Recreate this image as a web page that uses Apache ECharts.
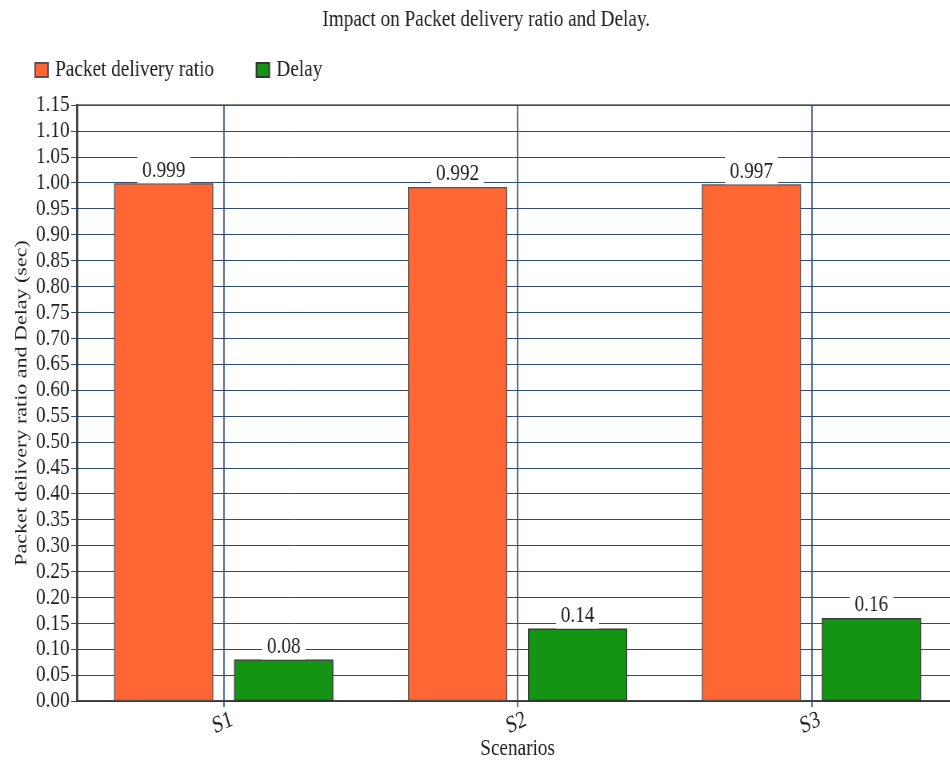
<!DOCTYPE html>
<html>
<head>
<meta charset="utf-8">
<script src="https://cdn.jsdelivr.net/npm/echarts@6/dist/echarts.min.js"></script>
<style>
  html, body { margin: 0; padding: 0; background: #fff; overflow: hidden; }
  #frame { width: 950px; height: 760px; overflow: hidden; }
  /* the chart is laid out wider and squeezed horizontally, giving the tall, narrow serif type */
  #chart { width: 1188px; height: 760px; transform: scaleX(0.8); transform-origin: 0 0; }
</style>
</head>
<body>
<div id="frame"><div id="chart"></div></div>
<script>
// Scenarios on the x axis
const scenarios = ['S1', 'S2', 'S3'];
// Packet delivery ratio per scenario
const pdrValues = [0.999, 0.992, 0.997];
// End-to-end delay per scenario (seconds)
const delayValues = [0.08, 0.14, 0.16];
// Y-axis range and step
const yMin = 0;
const yMax = 1.15;
const yStep = 0.05;

const serif = '"Liberation Serif", "Times New Roman", serif';
const gridBlue = '#2f4b73';
const ink = '#1e1e1e';

const valueLabel = {
  show: true,
  position: 'top',
  distance: 0,
  fontFamily: serif,
  fontSize: 24,
  lineHeight: 24,
  color: ink,
  backgroundColor: '#fff',
  padding: [3, 6, 1, 6],
  formatter: p => String(p.value)
};

const chart = echarts.init(document.getElementById('chart'), null, { renderer: 'canvas' });
chart.setOption({
  animation: false,
  backgroundColor: '#fff',
  title: {
    text: 'Impact on Packet delivery ratio and Delay.',
    left: 398,
    top: 3,
    textStyle: { fontFamily: serif, fontSize: 24, fontWeight: 'normal', color: ink }
  },
  legend: {
    left: 38,
    top: 53,
    icon: 'rect',
    itemWidth: 16,
    itemHeight: 14,
    itemGap: 52,
    textStyle: { fontFamily: serif, fontSize: 24, color: ink, padding: [2, 0, 0, 4] },
    data: ['Packet delivery ratio', 'Delay']
  },
  grid: {
    left: 96,
    top: 105,
    width: 1102,
    height: 596,
    show: true,
    borderColor: '#8a8a8a',
    borderWidth: 2,
    containLabel: false,
    outerBoundsMode: 'none'
  },
  xAxis: {
    type: 'category',
    data: scenarios,
    name: 'Scenarios',
    nameLocation: 'middle',
    nameGap: 36,
    nameMoveOverlap: false,
    nameTextStyle: { fontFamily: serif, fontSize: 24, color: ink },
    axisLine: { show: true, lineStyle: { color: '#333', width: 1.5 } },
    axisTick: { show: true, alignWithLabel: true, length: 6, lineStyle: { color: gridBlue, width: 1.6 } },
    splitLine: { show: true, alignWithLabel: true, lineStyle: { color: gridBlue, width: 1.6 } },
    axisLabel: {
      rotate: 20,
      align: 'center',
      verticalAlign: 'top',
      margin: 9,
      padding: [0, 12, 0, 0],
      fontFamily: serif,
      fontSize: 24,
      color: ink
    }
  },
  yAxis: {
    type: 'value',
    min: yMin,
    max: yMax,
    interval: yStep,
    name: 'Packet delivery ratio and Delay (sec)',
    nameLocation: 'middle',
    nameGap: 58,
    nameMoveOverlap: false,
    nameTextStyle: { fontFamily: serif, fontSize: 22, color: ink },
    axisLine: { show: true, lineStyle: { color: '#333', width: 2.5 } },
    axisTick: { show: true, length: 7, lineStyle: { color: gridBlue } },
    splitLine: { show: true, lineStyle: { color: gridBlue, width: 1 } },
    axisLabel: {
      margin: 9,
      fontFamily: serif,
      fontSize: 24,
      color: ink,
      formatter: v => v.toFixed(2)
    }
  },
  series: [
    {
      name: 'Packet delivery ratio',
      type: 'bar',
      data: pdrValues,
      barWidth: 124,
      barGap: '21%',
      itemStyle: { color: '#ff6633', borderColor: '#555', borderWidth: 1.25 },
      label: valueLabel
    },
    {
      name: 'Delay',
      type: 'bar',
      data: delayValues,
      barWidth: 124,
      barGap: '21%',
      itemStyle: { color: '#139413', borderColor: '#333', borderWidth: 1.25 },
      label: valueLabel
    }
  ]
});
</script>
</body>
</html>
